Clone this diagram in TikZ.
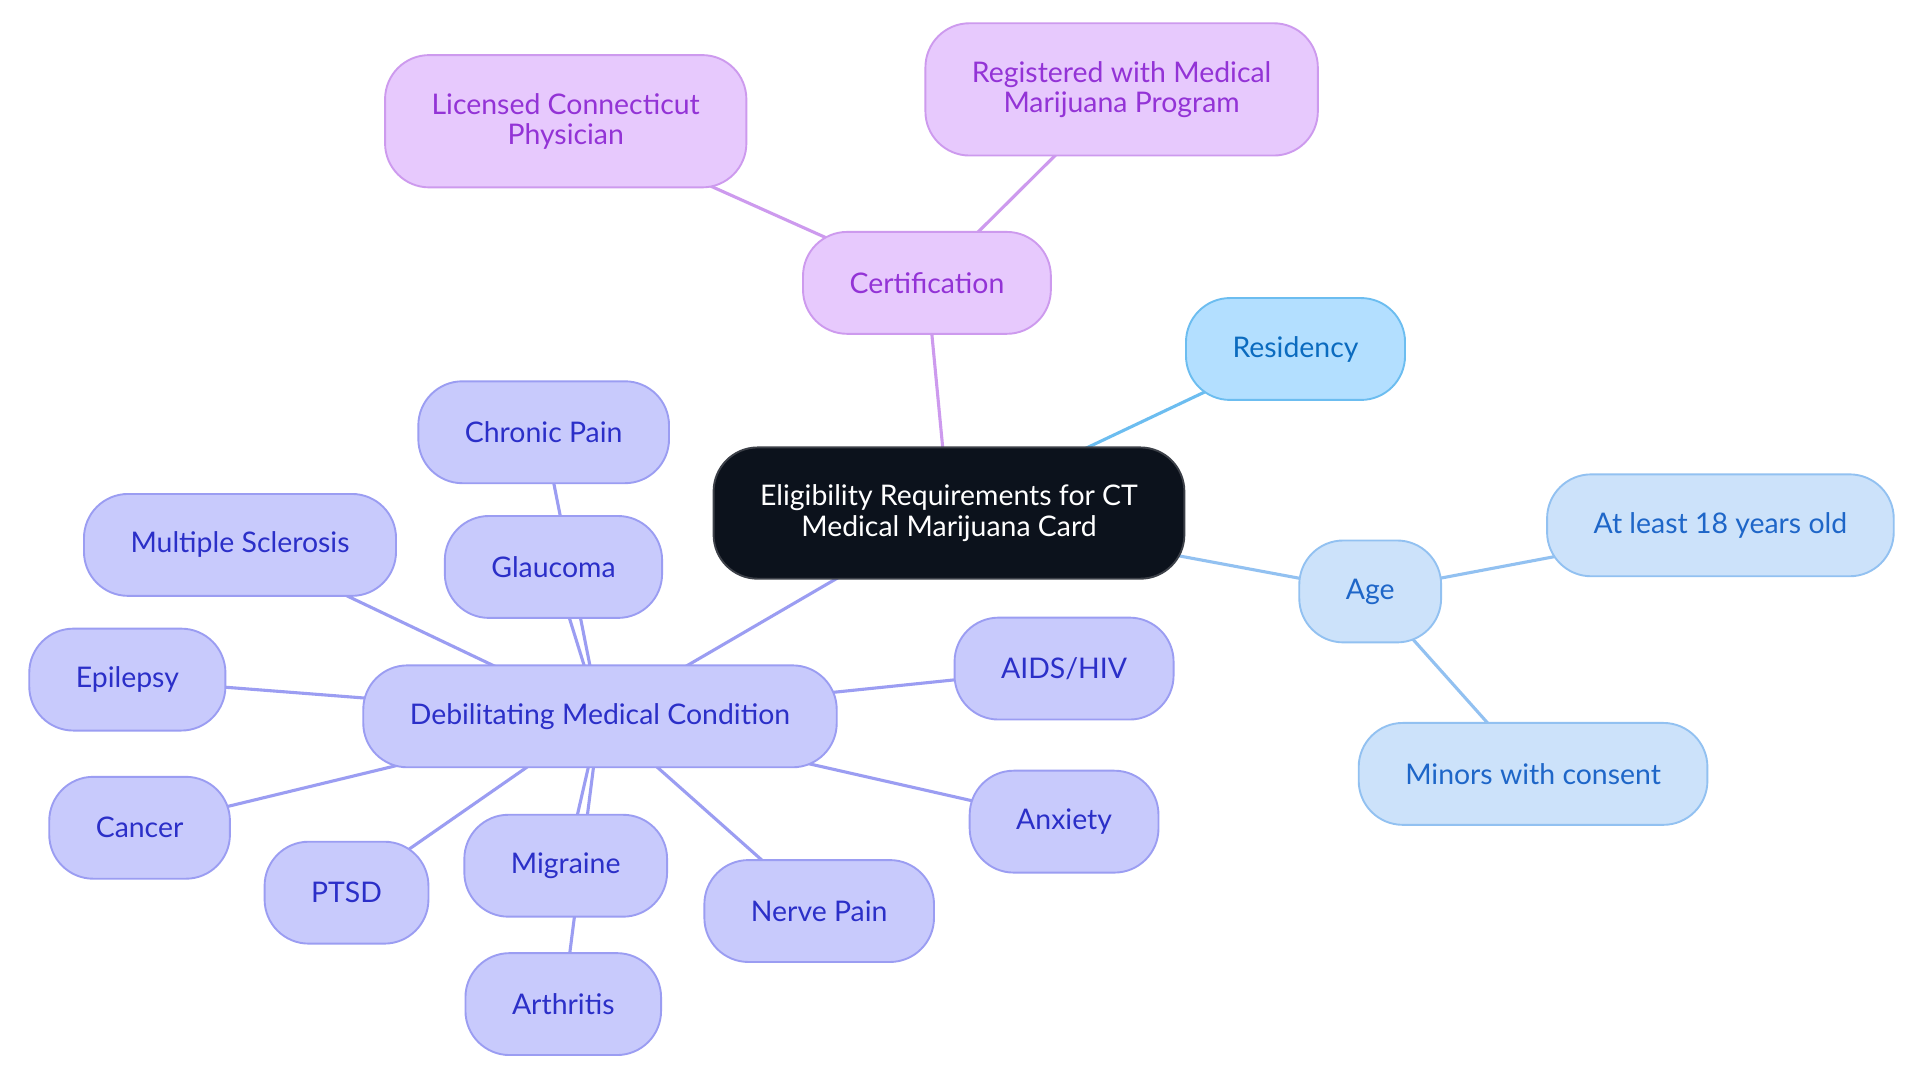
\documentclass[tikz,border=0pt]{standalone}
\usepackage{fontspec}
\setmainfont{Lato}
\usepackage{tikz}
\usetikzlibrary{positioning,backgrounds}
\definecolor{rootfill}{RGB}{12,18,28}
\definecolor{rootline}{RGB}{60,64,72}
\definecolor{certfill}{RGB}{231,201,253}
\definecolor{certline}{RGB}{205,154,238}
\definecolor{certtext}{RGB}{147,51,214}
\definecolor{resfill}{RGB}{179,223,255}
\definecolor{resline}{RGB}{108,189,240}
\definecolor{restext}{RGB}{11,107,191}
\definecolor{agefill}{RGB}{204,226,250}
\definecolor{ageline}{RGB}{146,193,241}
\definecolor{agetext}{RGB}{30,102,200}
\definecolor{condfill}{RGB}{200,202,252}
\definecolor{condline}{RGB}{155,157,242}
\definecolor{condtext}{RGB}{43,47,200}

\tikzset{
    pill/.style={draw, rectangle, rounded corners=0.9cm, line width=1.1pt, minimum height=2.08cm, inner xsep=0.95cm, align=center, font=\fontsize{16.5}{17.5}\selectfont},
    rootpill/.style={pill, fill=rootfill, draw=rootline, text=white, minimum height=2.68cm},
    certpill/.style={pill, fill=certfill, draw=certline, text=certtext},
    respill/.style={pill, fill=resfill, draw=resline, text=restext},
    agepill/.style={pill, fill=agefill, draw=ageline, text=agetext},
    condpill/.style={pill, fill=condfill, draw=condline, text=condtext},
    link/.style={line width=1.8pt}
}

\begin{document}
\begin{tikzpicture}[x=0.025cm, y=-0.025cm]
    \useasboundingbox (0,0) rectangle (1568,884);

    \node[rootpill] (root) at (775,419) {Eligibility Requirements for CT\\Medical Marijuana Card};

    \node[certpill] (cert) at (757,231) {Certification};
    \node[certpill, minimum height=2.7cm] (physician) at (462,99) {Licensed Connecticut\\Physician};
    \node[certpill, minimum height=2.7cm] (program) at (916,73) {Registered with Medical\\Marijuana Program};

    \node[respill] (residency) at (1058,285) {Residency};

    \node[agepill] (age) at (1119,483) {Age};
    \node[agepill] (adult) at (1405,429) {At least 18 years old};
    \node[agepill] (minors) at (1252,632) {Minors with consent};

    \node[condpill] (cond) at (490,585) {Debilitating Medical Condition};
    \node[condpill] (chronic) at (444,353) {Chronic Pain};
    \node[condpill] (glaucoma) at (452,463) {Glaucoma};
    \node[condpill] (sclerosis) at (196,445) {Multiple Sclerosis};
    \node[condpill] (epilepsy) at (104,555) {Epilepsy};
    \node[condpill] (cancer) at (114,676) {Cancer};
    \node[condpill] (ptsd) at (283,729) {PTSD};
    \node[condpill] (migraine) at (462,707) {Migraine};
    \node[condpill] (arthritis) at (460,820) {Arthritis};
    \node[condpill] (nerve) at (669,744) {Nerve Pain};
    \node[condpill] (anxiety) at (869,671) {Anxiety};
    \node[condpill] (aids) at (869,546) {AIDS/HIV};

    % connectors run centre to centre, behind the boxes
    \begin{scope}[on background layer]
        \fill[white] (0,0) rectangle (1568,884);
        \draw[link, certline] (root.center) -- (cert.center);
        \draw[link, certline] (cert.center) -- (physician.center);
        \draw[link, certline] (cert.center) -- (program.center);
        \draw[link, resline] (root.center) -- (residency.center);
        \draw[link, ageline] (root.center) -- (age.center);
        \draw[link, ageline] (age.center) -- (adult.center);
        \draw[link, ageline] (age.center) -- (minors.center);
        \draw[link, condline] (root.center) -- (cond.center);
        \draw[link, condline] (cond.center) -- (chronic.center);
        \draw[link, condline] (cond.center) -- (glaucoma.center);
        \draw[link, condline] (cond.center) -- (sclerosis.center);
        \draw[link, condline] (cond.center) -- (epilepsy.center);
        \draw[link, condline] (cond.center) -- (cancer.center);
        \draw[link, condline] (cond.center) -- (ptsd.center);
        \draw[link, condline] (cond.center) -- (migraine.center);
        \draw[link, condline] (cond.center) -- (arthritis.center);
        \draw[link, condline] (cond.center) -- (nerve.center);
        \draw[link, condline] (cond.center) -- (anxiety.center);
        \draw[link, condline] (cond.center) -- (aids.center);
    \end{scope}
\end{tikzpicture}
\end{document}
